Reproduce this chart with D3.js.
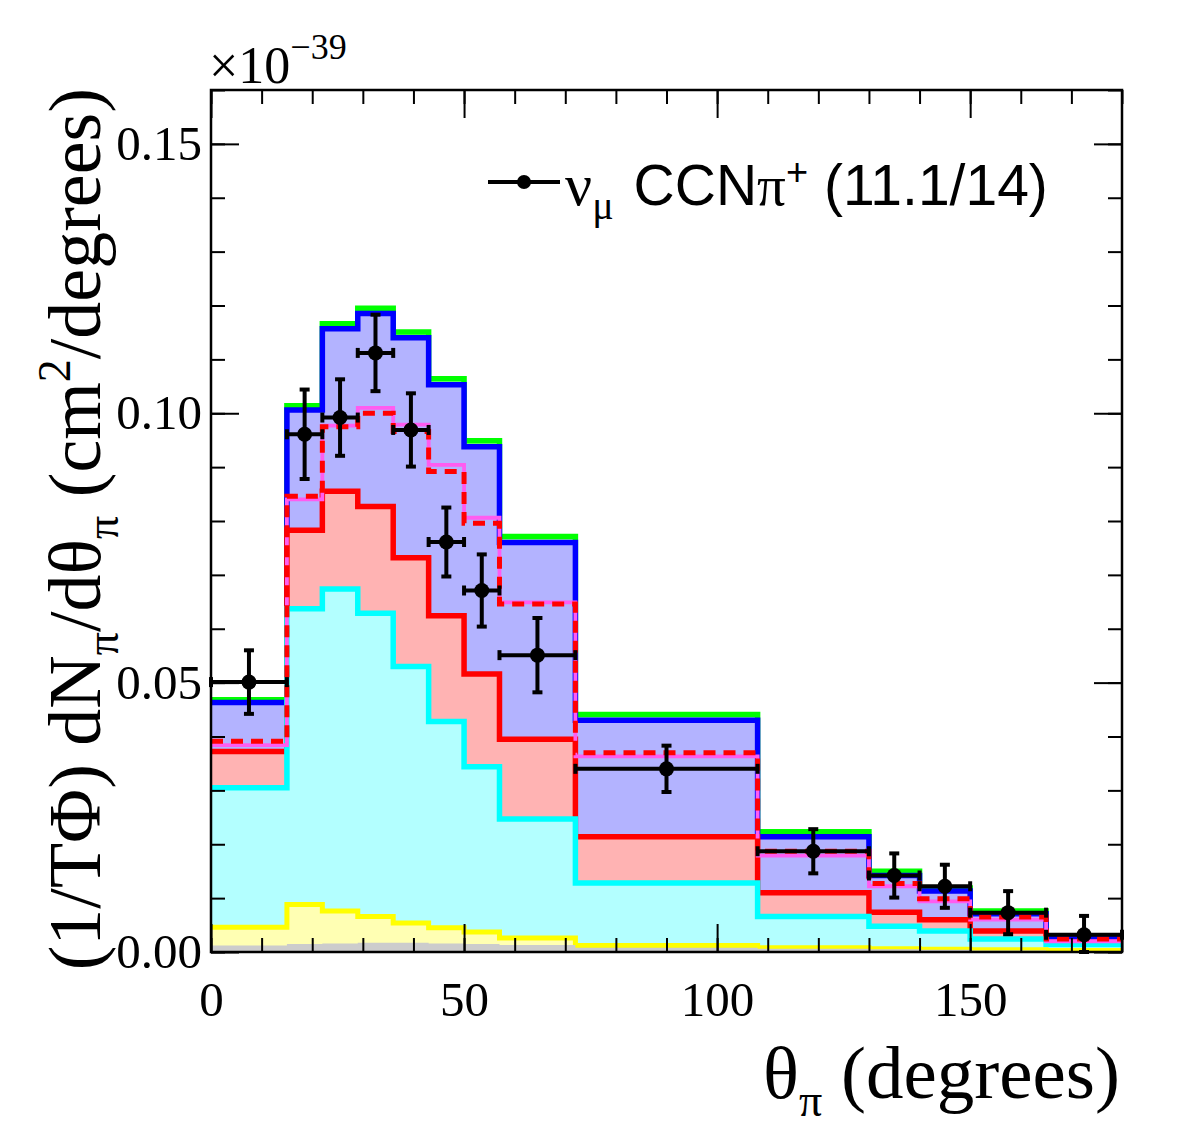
<!DOCTYPE html>
<html><head><meta charset="utf-8">
<script src="https://cdn.jsdelivr.net/npm/d3@7"></script>
<style>body{margin:0;background:#fff}</style>
</head><body>
<svg id="c" width="1182" height="1134"></svg>
<script>
// ---- data (units of 1e-39 cm^2/degree) ----
const binEdges = [0,15,22,29,36,43,50,57,72,108,130,140,150,165,180];
const dataValues = [0.0501,0.0961,0.0992,0.1112,0.0969,0.0761,0.0671,0.0551,0.0340,0.0187,0.0142,0.0122,0.0073,0.0032];
const dataErrors = [0.0059,0.0083,0.0071,0.0071,0.0068,0.0064,0.0067,0.0069,0.0043,0.0041,0.0041,0.0040,0.0040,0.0035];
// stacked (cumulative) MC components, top to bottom
const stackGreen  = [0.0468,0.1014,0.1166,0.1195,0.1151,0.1064,0.0949,0.0771,0.0441,0.0223,0.0150,0.0119,0.0076,0.0030];
const stackBlue   = [0.0463,0.1006,0.1157,0.1185,0.1140,0.1053,0.0938,0.0760,0.0430,0.0214,0.0142,0.0113,0.0071,0.0027];
const stackRed    = [0.0372,0.0783,0.0855,0.0827,0.0732,0.0624,0.0516,0.0395,0.0214,0.0110,0.0074,0.0060,0.0039,0.0018];
const stackCyan   = [0.0305,0.0637,0.0674,0.0629,0.0530,0.0428,0.0344,0.0247,0.0128,0.0066,0.0048,0.0039,0.0024,0.0014];
const stackYellow = [0.0046,0.0088,0.0076,0.0066,0.0054,0.0045,0.0037,0.0026,0.0012,0.0008,0.0006,0.0005,0.0004,0.0003];
const stackGray   = [0.0012,0.0015,0.0016,0.0017,0.0017,0.0016,0.0015,0.0013,0.0008,0.0006,0.0005,0.0004,0.0003,0.0002];
// alternative model curves
const modelDashed  = [0.0391,0.0846,0.0975,0.1000,0.0966,0.0892,0.0796,0.0646,0.0370,0.0187,0.0127,0.0099,0.0065,0.0024];
const modelMagenta = [0.0384,0.0840,0.0977,0.1010,0.0979,0.0904,0.0806,0.0649,0.0363,0.0179,0.0122,0.0094,0.0060,0.0020];
const yMajorTicks = [0,0.05,0.10,0.15];
const xMajorTicks = [0,50,100,150];

const svg = d3.select('#c');
const X0=211, X1=1122, Y0=952, Y1=90;
const x = d3.scaleLinear().domain([0,180]).range([X0,X1]);
const y = d3.scaleLinear().domain([0,0.16]).range([Y0,Y1]);

svg.append('defs').append('clipPath').attr('id','clip')
  .append('rect').attr('x',X0).attr('y',Y1).attr('width',X1-X0).attr('height',Y0-Y1);

function stepPts(vals){
  const p = vals.map((v,i)=>[binEdges[i],v]);
  p.push([binEdges[vals.length], vals[vals.length-1]]);
  return p;
}
const line = d3.line().x(d=>x(d[0])).y(d=>y(d[1])).curve(d3.curveStepAfter);
const area = d3.area().x(d=>x(d[0])).y0(y(0)).y1(d=>y(d[1])).curve(d3.curveStepAfter);

const plot = svg.append('g').attr('clip-path','url(#clip)');
const layers = [
  {v:stackGreen, fill:'#b3ffb3', stroke:'#00ff00', w:5.5},
  {v:stackBlue, fill:'#b3b3ff', stroke:'#0000ff', w:5.5},
  {v:stackRed, fill:'#ffb3b3', stroke:'#ff0000', w:5.5},
  {v:stackCyan, fill:'#b3ffff', stroke:'#00ffff', w:5.5},
  {v:stackYellow, fill:'#ffffb3', stroke:'#ffff00', w:5},
  {v:stackGray, fill:'#cccccc', stroke:'none', w:0}
];
layers.forEach(L=>{
  plot.append('path').attr('d',area(stepPts(L.v))).attr('fill',L.fill);
  if(L.stroke!=='none') plot.append('path').attr('d',line(stepPts(L.v))).attr('fill','none')
    .attr('stroke',L.stroke).attr('stroke-width',L.w);
});
plot.append('path').attr('d',line(stepPts(modelMagenta))).attr('fill','none')
  .attr('stroke','#ff5cf0').attr('stroke-width',3.8);
plot.append('path').attr('d',line(stepPts(modelDashed))).attr('fill','none')
  .attr('stroke','#ff0000').attr('stroke-width',5).attr('stroke-dasharray','12,8');

// data points
const pts = svg.append('g');
dataValues.forEach((v,i)=>{
  const xl=x(binEdges[i]), xr=x(binEdges[i+1]), xc=x((binEdges[i]+binEdges[i+1])/2);
  const yc=y(v), yt=y(v+dataErrors[i]), yb=y(Math.max(0,v-dataErrors[i]));
  const g=pts.append('g').attr('stroke','#000').attr('stroke-width',4);
  g.append('line').attr('x1',xl).attr('x2',xr).attr('y1',yc).attr('y2',yc);
  g.append('line').attr('x1',xc).attr('x2',xc).attr('y1',yt).attr('y2',yb);
  g.append('line').attr('x1',xc-5).attr('x2',xc+5).attr('y1',yt).attr('y2',yt);
  g.append('line').attr('x1',xc-5).attr('x2',xc+5).attr('y1',yb).attr('y2',yb);
  g.append('line').attr('x1',xl).attr('x2',xl).attr('y1',yc-5).attr('y2',yc+5);
  g.append('line').attr('x1',xr).attr('x2',xr).attr('y1',yc-5).attr('y2',yc+5);
  pts.append('circle').attr('cx',xc).attr('cy',yc).attr('r',7.5).attr('fill','#000');
});

// axes
function styleAxis(g){
  g.select('.domain').remove();
  g.selectAll('line').attr('stroke','#000').attr('stroke-width',2);
  g.selectAll('text').attr('font-family','"Liberation Serif", serif').attr('font-size',49).attr('fill','#000');
}
const minorY = d3.range(0,17).map(d=>d/100);
const minorX = d3.range(0,19).map(d=>d*10);
svg.append('g').attr('transform',`translate(${X0},0)`)
  .call(d3.axisLeft(y).tickValues(minorY).tickSize(-14).tickFormat('')).call(styleAxis);
svg.append('g').attr('transform',`translate(${X0},0)`)
  .call(d3.axisLeft(y).tickValues(yMajorTicks).tickSize(-28).tickPadding(9).tickFormat(d3.format('.2f'))).call(styleAxis);
svg.append('g').attr('transform',`translate(${X1},0)`)
  .call(d3.axisRight(y).tickValues(minorY).tickSize(-14).tickFormat('')).call(styleAxis);
svg.append('g').attr('transform',`translate(${X1},0)`)
  .call(d3.axisRight(y).tickValues(yMajorTicks).tickSize(-28).tickFormat('')).call(styleAxis);
svg.append('g').attr('transform',`translate(0,${Y0})`)
  .call(d3.axisBottom(x).tickValues(minorX).tickSize(-14).tickFormat('')).call(styleAxis);
svg.append('g').attr('transform',`translate(0,${Y0})`)
  .call(d3.axisBottom(x).tickValues(xMajorTicks).tickSize(-28).tickPadding(29).tickFormat(d3.format('d'))).call(styleAxis);
svg.append('g').attr('transform',`translate(0,${Y1})`)
  .call(d3.axisTop(x).tickValues(minorX).tickSize(-14).tickFormat('')).call(styleAxis);
svg.append('g').attr('transform',`translate(0,${Y1})`)
  .call(d3.axisTop(x).tickValues(xMajorTicks).tickSize(-28).tickFormat('')).call(styleAxis);

svg.append('rect').attr('x',X0).attr('y',Y1).attr('width',X1-X0).attr('height',Y0-Y1)
  .attr('fill','none').attr('stroke','#000').attr('stroke-width',2.5);

// exponent label
const ex = svg.append('text').attr('x',209).attr('y',83).attr('font-family','"Liberation Serif", serif')
  .attr('font-size',52).attr('fill','#000');
ex.append('tspan').text('×10');
ex.append('tspan').attr('font-size',36).attr('dy',-24).text('−39');

// x title
const xt = svg.append('text').attr('x',1120).attr('y',1098).attr('text-anchor','end')
  .attr('font-family','"Liberation Serif", serif').attr('font-size',75).attr('fill','#000');
xt.append('tspan').text('θ');
xt.append('tspan').attr('font-size',46).attr('dy',18).text('π');
xt.append('tspan').attr('dy',-18).text(' (degrees)');

// y title
const yt = svg.append('text').attr('transform','translate(100,88) rotate(-90)').attr('text-anchor','end')
  .attr('font-family','"Liberation Serif", serif').attr('font-size',74).attr('fill','#000');
yt.append('tspan').text('(1/TΦ) dN');
yt.append('tspan').attr('font-size',46).attr('dy',18).text('π');
yt.append('tspan').attr('dy',-18).text('/dθ');
yt.append('tspan').attr('font-size',46).attr('dy',18).text('π');
yt.append('tspan').attr('dy',-18).text(' (cm');
yt.append('tspan').attr('font-size',46).attr('dy',-30).text('2');
yt.append('tspan').attr('dy',30).text('/degrees)');

// legend
const lg = svg.append('g');
lg.append('line').attr('x1',488).attr('x2',560).attr('y1',182).attr('y2',182).attr('stroke','#000').attr('stroke-width',4);
lg.append('circle').attr('cx',524).attr('cy',182).attr('r',7).attr('fill','#000');
const lt = lg.append('text').attr('x',565).attr('y',205).attr('font-size',57).attr('fill','#000')
  .attr('font-family','"Liberation Sans", Arial, sans-serif');
lt.append('tspan').attr('font-family','"Liberation Serif", serif').attr('font-size',60).text('ν');
lt.append('tspan').attr('font-family','"Liberation Serif", serif').attr('font-size',40).attr('dy',14).text('μ');
lt.append('tspan').attr('dx',20).attr('dy',-14).text('CCN');
lt.append('tspan').attr('font-family','"Liberation Serif", serif').text('π');
lt.append('tspan').attr('font-size',38).attr('dy',-20).text('+');
lt.append('tspan').attr('dy',20).text(' (11.1/14)');
</script>
</body></html>
